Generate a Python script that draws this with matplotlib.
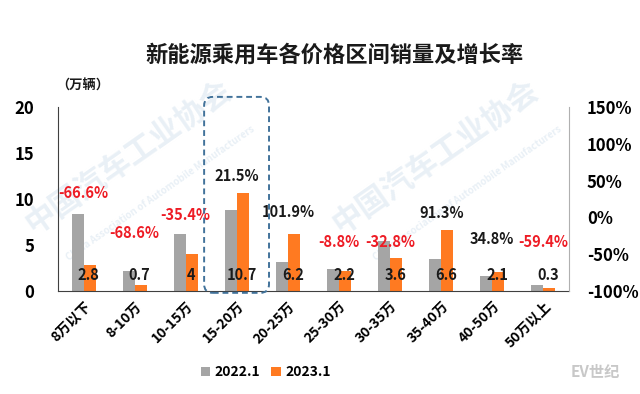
import numpy as np
import matplotlib.pyplot as plt
from matplotlib.patches import FancyBboxPatch

plt.rcParams['font.family'] = ['Noto Sans CJK SC', 'DejaVu Sans']
plt.rcParams['font.weight'] = 'bold'

categories = ['8万以下', '8-10万', '10-15万', '15-20万', '20-25万',
              '25-30万', '30-35万', '35-40万', '40-50万', '50万以上']
sales_2022 = [8.4, 2.2, 6.2, 8.8, 3.1, 2.4, 5.4, 3.5, 1.6, 0.7]
sales_2023 = [2.8, 0.7, 4, 10.7, 6.2, 2.2, 3.6, 6.6, 2.1, 0.3]
growth = [-66.6, -68.6, -35.4, 21.5, 101.9, -8.8, -32.8, 91.3, 34.8, -59.4]
# heights of the growth labels, in left-axis units
growth_label_y = [10.65, 6.3, 8.3, 12.5, 8.6, 5.3, 5.3, 8.5, 5.65, 5.3]

grey = '#a5a5a5'
orange = '#ff7a21'

fig = plt.figure(figsize=(6.4, 3.94), dpi=100)

# faint watermark behind everything
for wx, wy in [(0.2, 0.6), (0.68, 0.6)]:
    fig.text(wx, wy, '中国汽车工业协会', rotation=35, fontsize=22, color='#e9f0f6',
             ha='center', va='center', zorder=-5)
    fig.text(wx + 0.05, wy - 0.09, 'China Association of Automobile Manufacturers',
             rotation=35, fontsize=7, color='#e9f0f6', ha='center', va='center', zorder=-5)

ax = fig.add_axes([0.0906, 0.2614, 0.7984, 0.467])
ax.patch.set_alpha(0)

x = np.arange(len(categories))
w = 0.235
ax.bar(x - w / 2, sales_2022, w, color=grey, label='2022.1', zorder=2)
ax.bar(x + w / 2, sales_2023, w, color=orange, label='2023.1', zorder=2)

for i in range(len(categories)):
    ax.text(x[i] + 0.1, 1.7, f'{sales_2023[i]:g}', ha='center', va='center',
            fontsize=10.5, fontweight='bold', color='#1a1a1a', zorder=3)
    col = '#ee1c25' if growth[i] < 0 else '#1a1a1a'
    ax.text(x[i], growth_label_y[i], f'{growth[i]:.1f}%', ha='center', va='center',
            fontsize=10.5, fontweight='bold', color=col, zorder=3)

ax.set_xlim(-0.5, len(categories) - 0.5)
ax.set_ylim(0, 20)
ax.set_yticks([0, 5, 10, 15, 20])
ax.set_xticks(x)
ax.set_xticklabels(categories, rotation=45, ha='right', rotation_mode='anchor',
                   fontsize=10, fontweight='bold')
ax.tick_params(axis='both', length=0)
ax.tick_params(axis='y', labelsize=12, pad=17)
ax.tick_params(axis='x', pad=6)
for lab in ax.get_yticklabels():
    lab.set_fontweight('bold')
ax.spines['top'].set_visible(False)
ax.spines['right'].set_visible(False)
ax.spines['left'].set_color('#404040')
ax.spines['bottom'].set_color('#404040')

ax2 = ax.twinx()
ax2.set_ylim(-100, 150)
ax2.set_yticks([-100, -50, 0, 50, 100, 150])
ax2.set_yticklabels([f'{v}%' for v in [-100, -50, 0, 50, 100, 150]])
ax2.tick_params(axis='y', length=0, labelsize=12, pad=13)
for lab in ax2.get_yticklabels():
    lab.set_fontweight('bold')
for s in ['top', 'left', 'bottom']:
    ax2.spines[s].set_visible(False)
ax2.spines['right'].set_color('#b0b0b0')

box = FancyBboxPatch((2.36, -0.2), 1.27, 21.3,
                     boxstyle='round,pad=0,rounding_size=0.17',
                     mutation_aspect=5.5, fill=False, ec='#41729a', lw=1.4,
                     ls=(0, (3, 2)), clip_on=False, zorder=4)
ax.add_patch(box)

fig.text(0.523, 0.86, '新能源乘用车各价格区间销量及增长率', ha='center', va='center',
         fontsize=16, fontweight='bold', color='#1a1a1a')
fig.text(0.13, 0.782, '（万辆）', ha='center', va='center', fontsize=9.5,
         fontweight='bold', color='#1a1a1a')

fig.text(0.93, 0.055, 'EV世纪', fontsize=11, color='#c8c8c8', style='italic',
         ha='center', va='center')

fig.legend(loc='center', bbox_to_anchor=(0.415, 0.055), ncol=2, frameon=False,
           fontsize=10, handlelength=0.7, handleheight=0.7, handletextpad=0.3,
           columnspacing=0.8)

plt.savefig('out.png', dpi=100)
